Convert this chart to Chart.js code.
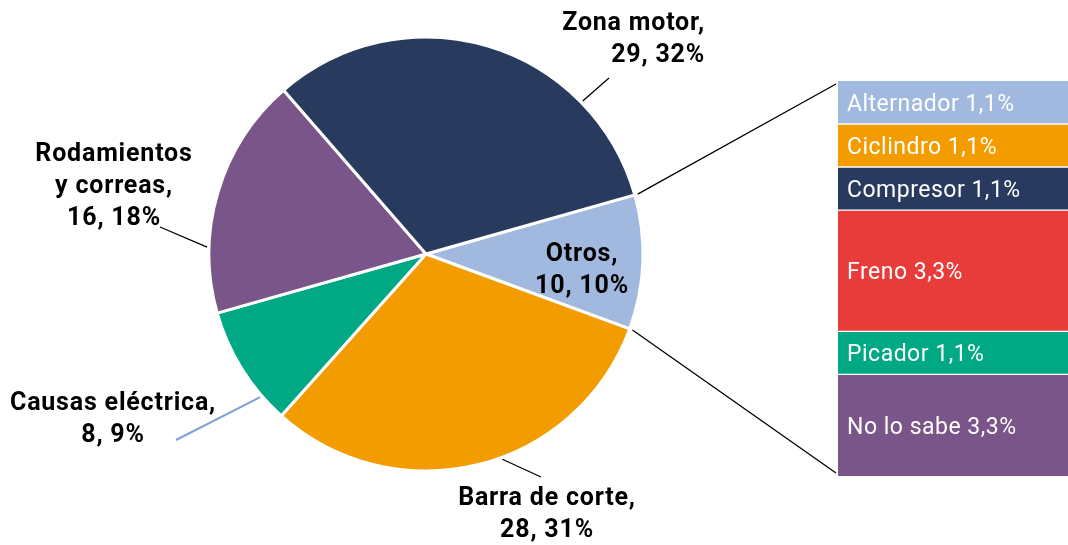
<!DOCTYPE html>
<html>
<head>
<meta charset="utf-8">
<script src="https://cdn.jsdelivr.net/npm/chart.js@4.4.0/dist/chart.umd.min.js"></script>
<style>
    html, body { margin: 0; padding: 0; background: #fff; }
    #wrap { position: relative; width: 1068px; height: 545px; overflow: hidden; }
    #pie { position: absolute; left: 0; top: 0; }
    #bar { position: absolute; left: 838px; top: 81px; }
</style>
</head>
<body>
<div id="wrap">
    <canvas id="pie" width="1068" height="545"></canvas>
    <canvas id="bar" width="230" height="395"></canvas>
</div>
<script>
// datos del gráfico
const pieLabels = ['Otros', 'Barra de corte', 'Causas eléctrica', 'Rodamientos y correas', 'Zona motor'];
const pieCounts = [10, 28, 8, 16, 29];
const piePercent = [10, 31, 9, 18, 32];
const pieColors = ['#a1b9de', '#f39c00', '#00a884', '#7a5589', '#283b5e'];

const otrosLabels = ['Alternador', 'Ciclindro', 'Compresor', 'Freno', 'Picador', 'No lo sabe'];
const otrosValues = [1.1, 1.1, 1.1, 3.1, 1.1, 2.6];
const otrosPercent = ['1,1', '1,1', '1,1', '3,3', '1,1', '3,3'];
const otrosColors = ['#a1b9de', '#f39c00', '#283b5e', '#e83c3a', '#00a884', '#7a5589'];

// posición de las etiquetas (x, línea base de la primera línea) y líneas guía
const labelLayout = [
    { x: 582, y: 261, align: 'center' },
    { x: 547, y: 505, align: 'center', leader: { a: 69.6, x: 541, y: 477 } },
    { x: 113, y: 410, align: 'center', leader: { a: 139.2, x: 176, y: 440 }, color: '#7f9fd5' },
    { x: 114, y: 161, align: 'center', split: ' y ', leader: { a: 181.8, x: 160, y: 227 } },
    { x: 705, y: 30, align: 'right', leader: { a: -44.3, x: 609, y: 78 } }
];
const lineH = 32;

(function () {
    'use strict';

    const barLabelsPlugin = {
        id: 'barLabels',
        afterDatasetsDraw(chart) {
            const ctx = chart.ctx;
            ctx.save();
            ctx.fillStyle = '#fff';
            ctx.font = '23px Roboto';
            ctx.letterSpacing = '0.5px';
            ctx.textBaseline = 'alphabetic';
            ctx.textAlign = 'left';
            chart.data.datasets.forEach((ds, i) => {
                const el = chart.getDatasetMeta(i).data[0];
                const mid = (el.y + el.base) / 2;
                ctx.fillText(`${otrosLabels[i]} ${otrosPercent[i]}%`, el.x - el.width / 2 + 9, mid + 8.5);
            });
            ctx.restore();
        }
    };

    const last = otrosLabels.length - 1;
    const barCanvas = document.getElementById('bar');
    const barChart = new Chart(barCanvas, {
        type: 'bar',
        data: {
            labels: ['Otros'],
            datasets: otrosLabels.map((l, i) => ({
                label: l,
                data: [otrosValues[i]],
                backgroundColor: otrosColors[i],
                borderColor: '#fff',
                borderWidth: { top: i === 0 ? 0 : 1, bottom: i === last ? 0 : 1, left: 0, right: 0 },
                borderSkipped: false,
                barPercentage: 1,
                categoryPercentage: 1
            }))
        },
        options: {
            responsive: false,
            animation: false,
            layout: { padding: 0 },
            plugins: { legend: { display: false }, tooltip: { enabled: false } },
            scales: {
                x: { stacked: true, display: false },
                y: { stacked: true, display: false, min: 0, max: otrosValues.reduce((a, b) => a + b, 0), reverse: true }
            }
        },
        plugins: [barLabelsPlugin]
    });

    const pieLabelsPlugin = {
        id: 'pieLabels',
        afterDatasetsDraw(chart) {
            const ctx = chart.ctx;
            const meta = chart.getDatasetMeta(0);
            const cx = meta.data[0].x, cy = meta.data[0].y, r = meta.data[0].outerRadius;
            ctx.save();

            // líneas de conexión hacia la barra de "Otros"
            const otros = meta.data[0];
            const bx = barCanvas.offsetLeft, by = barCanvas.offsetTop;
            const firstBar = barChart.getDatasetMeta(0).data[0];
            const lastBar = barChart.getDatasetMeta(last).data[0];
            const barLeft = bx + firstBar.x - firstBar.width / 2;
            const barTop = by + Math.min(firstBar.y, firstBar.base);
            const barBottom = by + Math.max(lastBar.y, lastBar.base);
            ctx.strokeStyle = '#000';
            ctx.lineWidth = 1.3;
            ctx.beginPath();
            ctx.moveTo(cx + (r + 3) * Math.cos(otros.startAngle), cy + (r + 3) * Math.sin(otros.startAngle));
            ctx.lineTo(barLeft - 2, barTop + 3);
            ctx.moveTo(cx + (r + 3) * Math.cos(otros.endAngle), cy + (r + 3) * Math.sin(otros.endAngle));
            ctx.lineTo(barLeft - 2, barBottom - 3);
            ctx.stroke();

            // etiquetas de sectores
            ctx.font = 'bold 25px Roboto';
            ctx.letterSpacing = '0.8px';
            ctx.fillStyle = '#000';
            ctx.textBaseline = 'alphabetic';
            pieLabels.forEach((name, i) => {
                const lay = labelLayout[i];
                let lines = lay.split ? name.split(lay.split) : [name];
                if (lay.split) lines[1] = lay.split.trim() + ' ' + lines[1];
                lines[lines.length - 1] += ',';
                lines.push(`${pieCounts[i]}, ${piePercent[i]}%`);
                ctx.textAlign = lay.align;
                lines.forEach((t, k) => ctx.fillText(t, lay.x, lay.y + k * lineH));

                if (lay.leader) {
                    const a = lay.leader.a * Math.PI / 180;
                    ctx.strokeStyle = lay.color || '#000';
                    ctx.lineWidth = lay.color ? 2 : 1.3;
                    ctx.beginPath();
                    ctx.moveTo(cx + (r + 2) * Math.cos(a), cy + (r + 2) * Math.sin(a));
                    ctx.lineTo(lay.leader.x, lay.leader.y);
                    ctx.stroke();
                }
            });
            ctx.restore();
        }
    };

    new Chart(document.getElementById('pie'), {
        type: 'pie',
        data: {
            labels: pieLabels,
            datasets: [{
                data: piePercent,
                backgroundColor: pieColors,
                borderColor: '#fff',
                borderWidth: 3
            }]
        },
        options: {
            responsive: false,
            animation: false,
            rotation: 74.2,
            radius: 217,
            layout: { padding: { left: 206, top: 34, right: 422, bottom: 71 } },
            plugins: { legend: { display: false }, tooltip: { enabled: false } }
        },
        plugins: [pieLabelsPlugin]
    });
})();
</script>
</body>
</html>
